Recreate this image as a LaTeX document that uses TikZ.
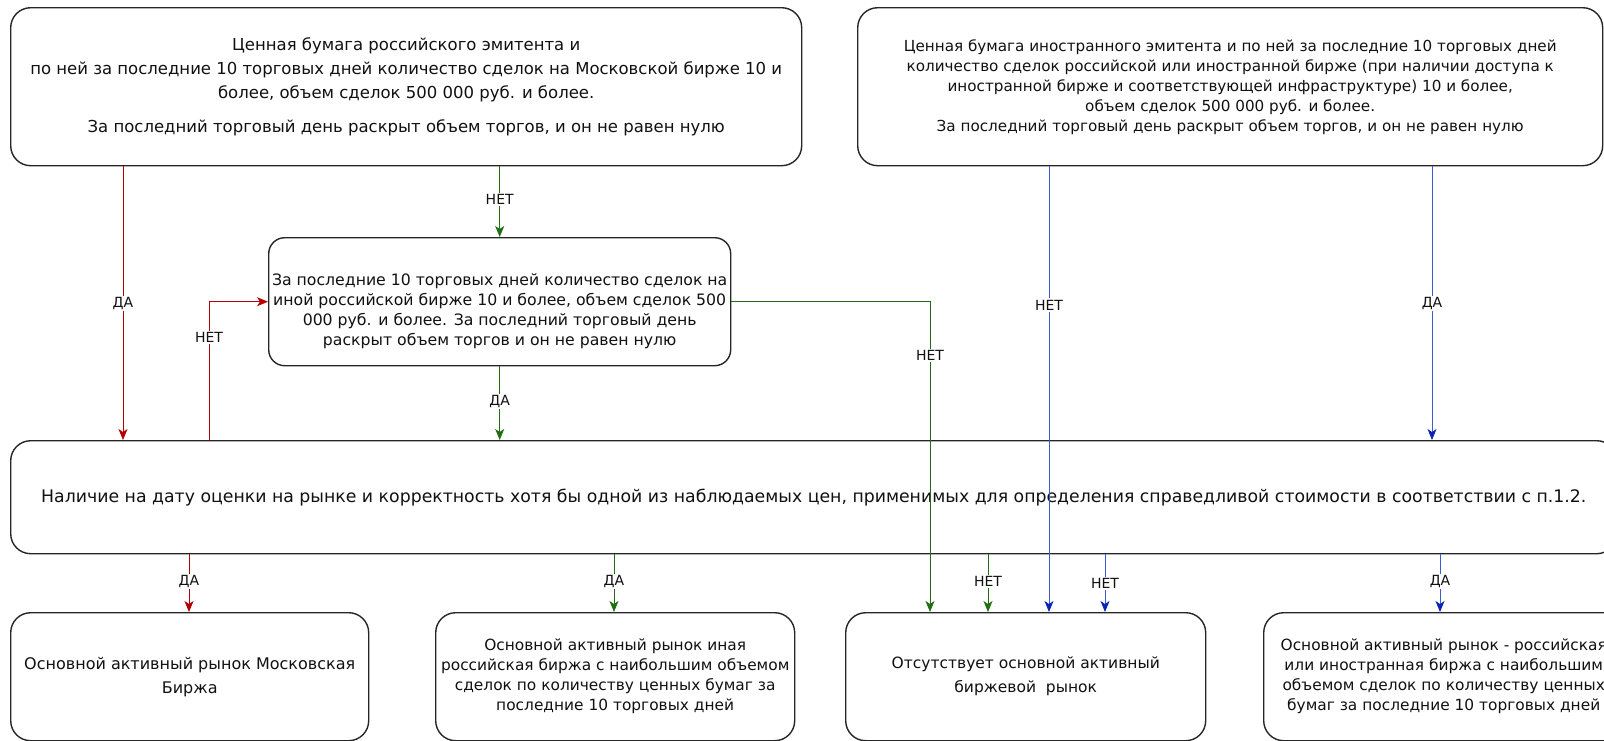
\documentclass[tikz,border=0pt]{standalone}
\usepackage{fontspec}
\setmainfont{DejaVu Sans}
\usetikzlibrary{arrows.meta}
\definecolor{cred}{HTML}{B20000}
\definecolor{cgreen}{HTML}{1F6E12}
\definecolor{cblue}{HTML}{3A5BD6}
\definecolor{cbluetip}{HTML}{0B24B8}
\definecolor{cborder}{HTML}{262626}
\definecolor{ctext}{HTML}{111111}
\begin{document}
\begin{tikzpicture}[x=1pt,y=-1pt,
  box/.style={draw=cborder, line width=1.4pt, fill=white, rounded corners=20pt,
    align=center, inner sep=0pt, anchor=north west, text=ctext},
  lbl/.style={fill=white, inner sep=1.5pt, text=ctext, font=\fontsize{14}{17}\selectfont},
  arr/.style={line width=1pt, -{Stealth[length=10pt,width=8pt,inset=3pt]}},
  redarr/.style={arr, draw=cred, -{Stealth[length=11pt,width=9pt,inset=3pt,color=cred]}},
  grnarr/.style={arr, draw=cgreen, -{Stealth[length=11pt,width=9pt,inset=3pt,color=cgreen]}},
  bluarr/.style={arr, draw=cblue, -{Stealth[length=11pt,width=9pt,inset=3pt,color=cbluetip]}}]
\useasboundingbox (0,0) rectangle (1604,740);
\clip (0,0) rectangle (1604,740);

% boxes
\node[box, minimum width=791pt, minimum height=158pt, font=\fontsize{16.5}{24}\selectfont] (b1) at (10,7)
 {Ценная бумага российского эмитента и\\по ней за последние 10 торговых дней количество сделок на Московской бирже 10 и\\более, объем сделок 500 000 руб. и более.\\[10pt]За последний торговый день раскрыт объем торгов, и он не равен нулю};
\node[box, minimum width=745pt, minimum height=158pt, font=\fontsize{15.2}{20}\selectfont] (b2) at (857,7)
 {Ценная бумага иностранного эмитента и по ней за последние 10 торговых дней\\количество сделок российской или иностранной бирже (при наличии доступа к\\иностранной бирже и соответствующей инфраструктуре) 10 и более,\\объем сделок 500 000 руб. и более.\\За последний торговый день раскрыт объем торгов, и он не равен нулю};
\node[box, minimum width=462pt, minimum height=128pt, rounded corners=16pt, font=\fontsize{15.7}{20}\selectfont] (mid) at (268,237)
 {\raisebox{-10pt}[\height][\depth]{\begin{tabular}{@{}c@{}}За последние 10 торговых дней количество сделок на\\иной российской бирже 10 и более, объем сделок 500\\000 руб. и более. За последний торговый день\\раскрыт объем торгов и он не равен нулю\end{tabular}}};
\node[box, minimum width=1606pt, minimum height=113pt, font=\fontsize{17.3}{22}\selectfont] (big) at (10,440)
 {Наличие на дату оценки на рынке и корректность хотя бы одной из наблюдаемых цен, применимых для определения справедливой стоимости в соответствии с п.1.2.};
\node[box, minimum width=358pt, minimum height=128pt, font=\fontsize{16}{24}\selectfont] (oA) at (10,612)
 {Основной активный рынок Московская\\Биржа};
\node[box, minimum width=359pt, minimum height=128pt, font=\fontsize{15.4}{20}\selectfont] (oB) at (435,612)
 {Основной активный рынок иная\\российская биржа с наибольшим объемом\\сделок по количеству ценных бумаг за\\последние 10 торговых дней};
\node[box, minimum width=360pt, minimum height=128pt, font=\fontsize{15.5}{24}\selectfont] (oC) at (845,612)
 {Отсутствует основной активный\\биржевой\ \ рынок};
\node[box, minimum width=360pt, minimum height=128pt, font=\fontsize{15.4}{20}\selectfont] (oD) at (1263,612)
 {Основной активный рынок - российская\\или иностранная биржа с наибольшим\\объемом сделок по количеству ценных\\бумаг за последние 10 торговых дней};

% x positions of connectors
\coordinate (xRa) at (123,0);
\coordinate (xRn) at (209,0);
\coordinate (xGn) at (930,0);
\coordinate (xBn) at (1049,0);
\coordinate (xBa) at (1432,0);
\coordinate (xRb) at (189,0);
\coordinate (xGb) at (614,0);
\coordinate (xGc) at (988,0);
\coordinate (xBc) at (1105,0);
\coordinate (xBd) at (1440,0);

% connectors
\draw[redarr] (b1.south -| xRa) -- node[lbl]{ДА} (big.north -| xRa);
\draw[redarr] (big.north -| xRn) |- node[lbl, pos=0.37]{НЕТ} (mid.west);
\draw[grnarr] (b1.south -| mid.north) -- node[lbl, pos=0.47]{НЕТ} (mid.north);
\draw[grnarr] (mid.south) -- node[lbl, pos=0.48]{ДА} (big.north -| mid.south);
\draw[grnarr] (mid.east) -| node[lbl, pos=0.587]{НЕТ} (oC.north -| xGn);
\draw[bluarr] (b2.south -| xBn) -- node[lbl, pos=0.311]{НЕТ} (oC.north -| xBn);
\draw[bluarr] (b2.south -| xBa) -- node[lbl]{ДА} (big.north -| xBa);

\draw[redarr] (big.south -| xRb) -- node[lbl, pos=0.475]{ДА} (oA.north -| xRb);
\draw[grnarr] (big.south -| xGb) -- node[lbl, pos=0.475]{ДА} (oB.north -| xGb);
\draw[grnarr] (big.south -| xGc) -- node[lbl, pos=0.475]{НЕТ} (oC.north -| xGc);
\draw[bluarr] (big.south -| xBc) -- node[lbl, pos=0.5]{НЕТ} (oC.north -| xBc);
\draw[bluarr] (big.south -| xBd) -- node[lbl, pos=0.475]{ДА} (oD.north -| xBd);
\end{tikzpicture}
\end{document}
